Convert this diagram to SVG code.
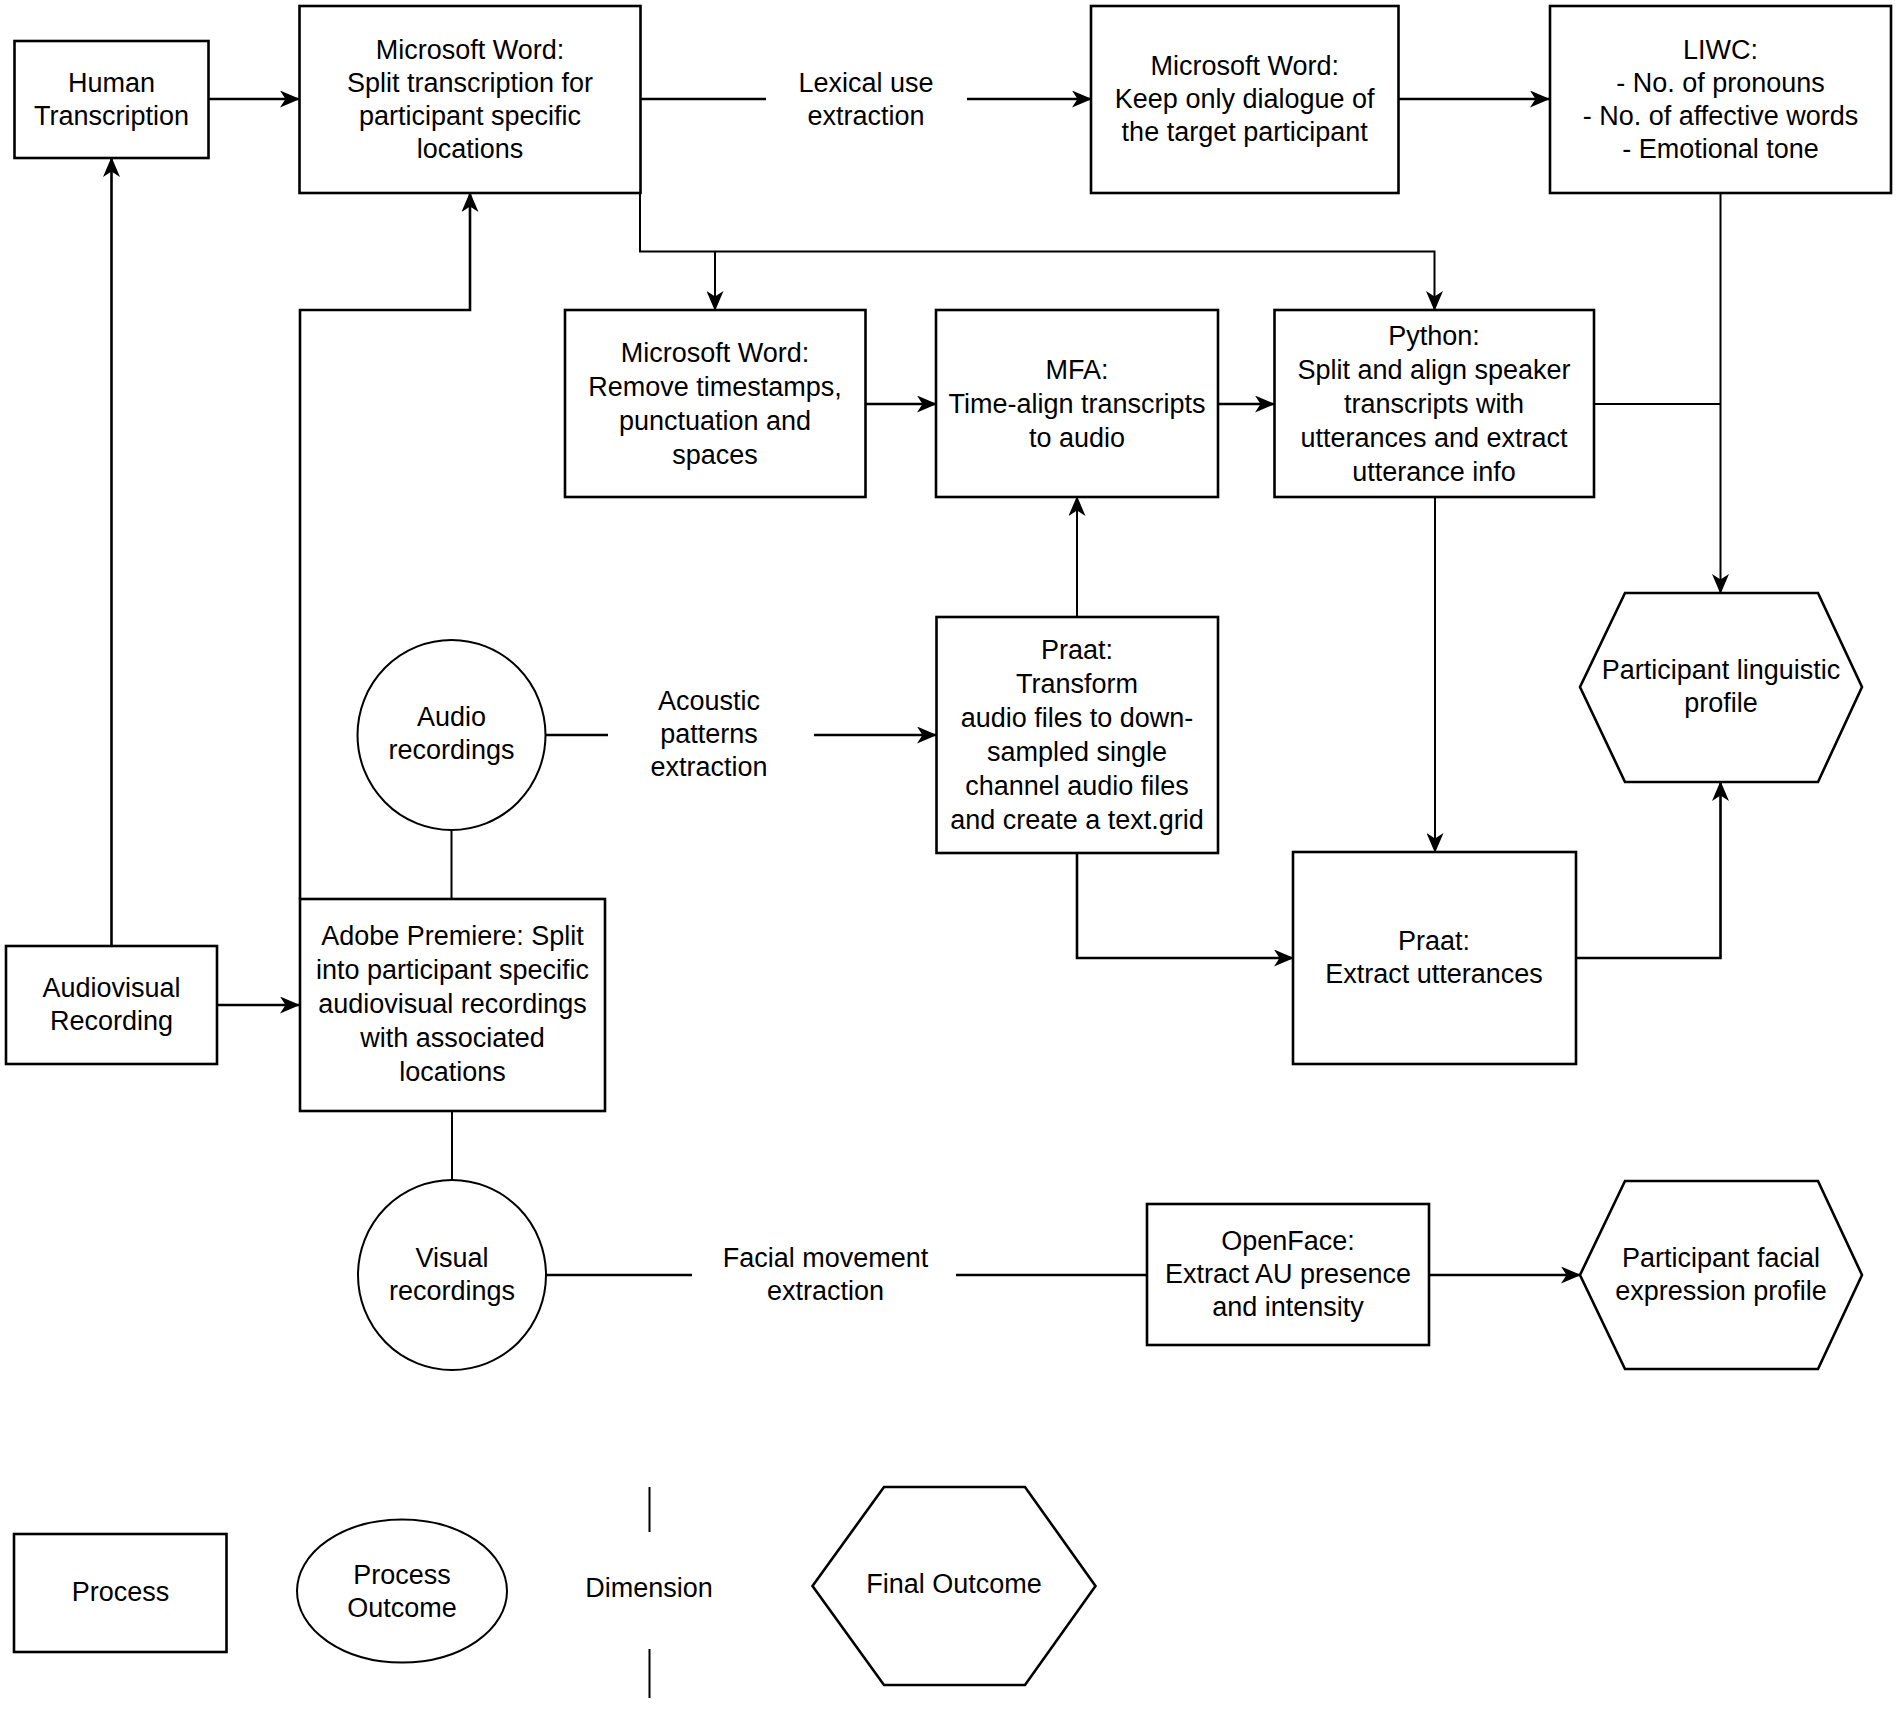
<svg xmlns="http://www.w3.org/2000/svg" width="1901" height="1709" viewBox="0 0 1901 1709">
<style>
.n{fill:#fff;stroke:#000;stroke-width:2.6}
.c{fill:#fff;stroke:#000;stroke-width:2}
.e{fill:none;stroke:#000;stroke-width:2.6}
.t{fill:none;stroke:#000;stroke-width:2}
text{font-family:"Liberation Sans",Arial,Helvetica,sans-serif;font-size:27px;fill:#000;text-anchor:middle}
</style>
<defs>
<marker id="a" viewBox="0 0 20 17" refX="19" refY="8.5" markerWidth="20" markerHeight="17" orient="auto" markerUnits="userSpaceOnUse"><path d="M0,0 L20,8.5 L0,17 L5.5,8.5 Z" fill="#000"/></marker>
</defs>
<rect width="1901" height="1709" fill="#fff"/>
<g id="connectors">
<path class="e" d="M208.5 99 H299" marker-end="url(#a)"/>
<path class="e" d="M111.5 946 V158" marker-end="url(#a)"/>
<path class="e" d="M217 1005 H299" marker-end="url(#a)"/>
<path class="e" d="M300 899 V310 H470 V193" marker-end="url(#a)"/>
<path class="e" d="M640 99 H766"/>
<path class="e" d="M967 99 H1091" marker-end="url(#a)"/>
<path class="e" d="M1398 99 H1549" marker-end="url(#a)"/>
<path class="t" d="M640 193 V251.5 H1434.5 V310" marker-end="url(#a)"/>
<path class="t" d="M715 251.5 V310" marker-end="url(#a)"/>
<path class="e" d="M865.5 404 H936" marker-end="url(#a)"/>
<path class="e" d="M1218 404 H1274" marker-end="url(#a)"/>
<path class="t" d="M1594 404 H1720.5"/>
<path class="t" d="M1720.5 193 V593" marker-end="url(#a)"/>
<path class="t" d="M1435 497 V852" marker-end="url(#a)"/>
<path class="t" d="M1077 617 V497" marker-end="url(#a)"/>
<path class="e" d="M1077 853 V958 H1293" marker-end="url(#a)"/>
<path class="e" d="M1576 958 H1720.5 V782" marker-end="url(#a)"/>
<path class="e" d="M545.5 735 H608"/>
<path class="e" d="M814 735 H936" marker-end="url(#a)"/>
<path class="t" d="M451.5 830 V899"/>
<path class="t" d="M452 1111 V1180"/>
<path class="e" d="M546 1275 H692"/>
<path class="e" d="M956 1275 H1147"/>
<path class="e" d="M1429 1275 H1580" marker-end="url(#a)"/>
</g>
<g id="human-transcription">
<rect class="n" x="14.5" y="41" width="194" height="117"/>
<text x="111.5" y="92">Human</text>
<text x="111.5" y="125">Transcription</text>
</g>
<g id="word-split">
<rect class="n" x="299.5" y="6" width="341" height="187"/>
<text x="470" y="59">Microsoft Word:</text>
<text x="470" y="92">Split transcription for</text>
<text x="470" y="125">participant specific</text>
<text x="470" y="158">locations</text>
</g>
<g id="lexical-label">
<text x="866" y="92">Lexical use</text>
<text x="866" y="125">extraction</text>
</g>
<g id="word-keep">
<rect class="n" x="1091" y="6" width="307.5" height="187"/>
<text x="1244.7" y="75">Microsoft Word:</text>
<text x="1244.7" y="108">Keep only dialogue of</text>
<text x="1244.7" y="141">the target participant</text>
</g>
<g id="liwc">
<rect class="n" x="1550" y="6" width="341" height="187"/>
<text x="1720.5" y="59">LIWC:</text>
<text x="1720.5" y="92">- No. of pronouns</text>
<text x="1720.5" y="125">- No. of affective words</text>
<text x="1720.5" y="158">- Emotional tone</text>
</g>
<g id="word-remove">
<rect class="n" x="565" y="310" width="300.5" height="187"/>
<text x="715" y="362">Microsoft Word:</text>
<text x="715" y="396">Remove timestamps,</text>
<text x="715" y="430">punctuation and</text>
<text x="715" y="464">spaces</text>
</g>
<g id="mfa">
<rect class="n" x="936" y="310" width="282" height="187"/>
<text x="1077" y="379">MFA:</text>
<text x="1077" y="413">Time-align transcripts</text>
<text x="1077" y="447">to audio</text>
</g>
<g id="python">
<rect class="n" x="1274.5" y="310" width="319.5" height="187"/>
<text x="1434" y="345">Python:</text>
<text x="1434" y="379">Split and align speaker</text>
<text x="1434" y="413">transcripts with</text>
<text x="1434" y="447">utterances and extract</text>
<text x="1434" y="481">utterance info</text>
</g>
<g id="linguistic-profile">
<polygon class="n" points="1625,593 1818,593 1862,687 1818,782 1625,782 1580,687"/>
<text x="1721" y="679">Participant linguistic</text>
<text x="1721" y="712">profile</text>
</g>
<g id="audio-recordings">
<ellipse class="c" cx="451.5" cy="735" rx="94" ry="95"/>
<text x="451.5" y="726">Audio</text>
<text x="451.5" y="759">recordings</text>
</g>
<g id="acoustic-label">
<text x="709" y="710">Acoustic</text>
<text x="709" y="743">patterns</text>
<text x="709" y="776">extraction</text>
</g>
<g id="praat-transform">
<rect class="n" x="936.5" y="617" width="281.5" height="236"/>
<text x="1077" y="658.5">Praat:</text>
<text x="1077" y="692.5">Transform</text>
<text x="1077" y="726.5">audio files to down-</text>
<text x="1077" y="760.5">sampled single</text>
<text x="1077" y="794.5">channel audio files</text>
<text x="1077" y="828.5">and create a text.grid</text>
</g>
<g id="praat-extract">
<rect class="n" x="1293" y="852" width="283" height="212"/>
<text x="1434" y="950">Praat:</text>
<text x="1434" y="983">Extract utterances</text>
</g>
<g id="audiovisual-recording">
<rect class="n" x="6" y="946" width="211" height="118"/>
<text x="111.5" y="997">Audiovisual</text>
<text x="111.5" y="1030">Recording</text>
</g>
<g id="adobe-premiere">
<rect class="n" x="300" y="899" width="305" height="212"/>
<text x="452.5" y="945">Adobe Premiere: Split</text>
<text x="452.5" y="979">into participant specific</text>
<text x="452.5" y="1013">audiovisual recordings</text>
<text x="452.5" y="1047">with associated</text>
<text x="452.5" y="1081">locations</text>
</g>
<g id="visual-recordings">
<ellipse class="c" cx="452" cy="1275" rx="94" ry="95"/>
<text x="452" y="1267">Visual</text>
<text x="452" y="1300">recordings</text>
</g>
<g id="facial-label">
<text x="825.6" y="1267">Facial movement</text>
<text x="825.6" y="1300">extraction</text>
</g>
<g id="openface">
<rect class="n" x="1147" y="1204" width="282" height="141"/>
<text x="1288" y="1250">OpenFace:</text>
<text x="1288" y="1283">Extract AU presence</text>
<text x="1288" y="1316">and intensity</text>
</g>
<g id="facial-profile">
<polygon class="n" points="1625,1181 1818,1181 1862,1275 1818,1369 1625,1369 1580,1275"/>
<text x="1721" y="1267">Participant facial</text>
<text x="1721" y="1300">expression profile</text>
</g>
<g id="legend-process">
<rect class="n" x="14" y="1534" width="212.5" height="118"/>
<text x="120.5" y="1601">Process</text>
</g>
<g id="legend-outcome">
<ellipse class="c" cx="402" cy="1591" rx="105" ry="71.5"/>
<text x="402" y="1583.5">Process</text>
<text x="402" y="1616.5">Outcome</text>
</g>
<g id="legend-dimension">
<path class="t" d="M649.5 1487 V1532 M649.5 1649 V1698"/>
<text x="649" y="1597">Dimension</text>
</g>
<g id="legend-final">
<polygon class="n" points="884,1487 1025,1487 1095.5,1586 1025,1685 884,1685 812.5,1586"/>
<text x="954" y="1592.5">Final Outcome</text>
</g>
</svg>
